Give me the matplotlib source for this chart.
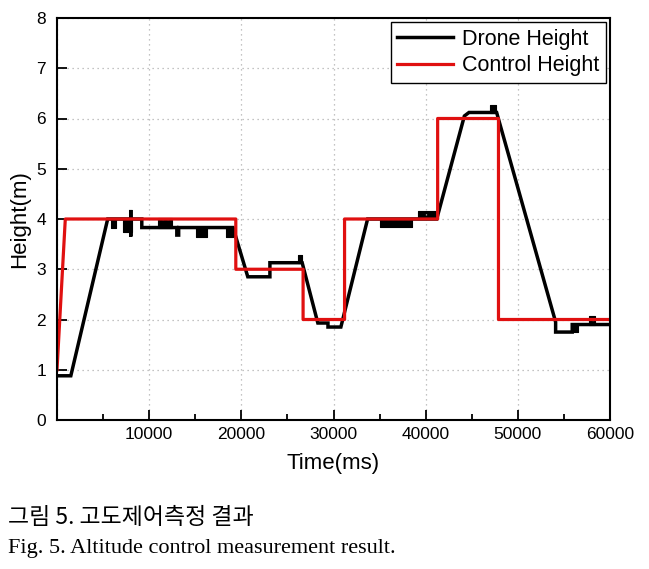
import matplotlib
matplotlib.use("Agg")
import matplotlib.pyplot as plt
from matplotlib.ticker import MultipleLocator

# ---- data ----
drone_t = [0, 1500, 5500, 8000, 8000, 8000, 8000, 9200, 9200, 13000, 13000, 13200, 13200,
           19100, 20700, 23100, 23100, 26600, 28300, 29400, 29400, 30800, 33700,
           41200, 44200, 44700, 47700, 54100, 54100, 55900, 55900, 60000]
drone_h = [0.88, 0.88, 4.0, 4.0, 4.18, 3.65, 4.0, 4.0, 3.83, 3.83, 3.68, 3.68, 3.83,
           3.83, 2.85, 2.85, 3.13, 3.13, 1.93, 1.93, 1.85, 1.85, 4.0,
           4.0, 6.05, 6.12, 6.12, 1.95, 1.75, 1.75, 1.9, 1.9]

# rapid-oscillation blocks of the drone trace: start, end, low, high
noise_start = [5900, 7200, 11000, 15100, 18300, 26200, 35000, 39200, 47000, 55900, 57700]
noise_end   = [6400, 8100, 12500, 16300, 19100, 26600, 38500, 41200, 47600, 56500, 58400]
noise_low   = [3.82, 3.75, 3.83, 3.65, 3.65, 3.13, 3.85, 4.0, 6.1, 1.75, 1.9]
noise_high  = [4.0, 4.0, 4.02, 3.83, 3.83, 3.28, 4.0, 4.15, 6.27, 1.9, 2.07]

control_t = [0, 900, 19400, 19400, 26700, 26700, 31200, 31200, 41300, 41300, 47900, 47900, 60000]
control_h = [1.0, 4.0, 4.0, 3.0, 3.0, 2.0, 2.0, 4.0, 4.0, 6.0, 6.0, 2.0, 2.0]

x_ticks = [0, 10000, 20000, 30000, 40000, 50000, 60000]
x_tick_labels = ['', '10000', '20000', '30000', '40000', '50000', '60000']
y_ticks = [0, 1, 2, 3, 4, 5, 6, 7, 8]

plt.rcParams['font.family'] = ['Liberation Sans', 'DejaVu Sans']

fig = plt.figure(figsize=(6.49, 5.69), dpi=100)
ax = fig.add_axes([57/649, 1-420/569, (610-57)/649, (420-18)/569])

ax.plot(drone_t, drone_h, color='black', lw=2.5, label='Drone Height', solid_joinstyle='miter')
for s, e, lo, hi in zip(noise_start, noise_end, noise_low, noise_high):
    ax.fill_between([s, e], [lo, lo], [hi, hi], color='black', lw=0.8, edgecolor='black')
ax.plot(control_t, control_h, color='#e01010', lw=2.3, label='Control Height')

ax.set_xlim(0, 60000)
ax.set_ylim(0, 8)
ax.set_xticks(x_ticks)
ax.set_xticklabels(x_tick_labels)
ax.set_yticks(y_ticks)
ax.xaxis.set_minor_locator(MultipleLocator(5000))
ax.tick_params(axis='both', which='major', direction='in', length=7, width=1.3, labelsize=12.5)
ax.tick_params(axis='y', which='major', pad=8)
ax.tick_params(axis='x', which='major', pad=5)
ax.tick_params(axis='x', which='minor', direction='in', length=4, width=1.3)
ax.grid(True, which='major', color='#b0b0b0', linestyle=(0, (1, 3)), lw=0.9)
for sp in ax.spines.values():
    sp.set_linewidth(1.5)

ax.set_xlabel('Time(ms)', fontsize=16, labelpad=8)
ax.set_ylabel('Height(m)', fontsize=16, labelpad=4)

leg = ax.legend(loc='upper right', fontsize=15.5, frameon=True, fancybox=False,
                edgecolor='black', framealpha=1, borderpad=0.3, handlelength=2.6,
                handletextpad=0.4, labelspacing=0.25, borderaxespad=0.2)
leg.get_frame().set_linewidth(1.0)

fig.text(8/649, 1-517/569, '그림 5. 고도제어측정 결과', fontsize=16.5,
         family=['Noto Sans CJK KR', 'DejaVu Sans'], va='center', ha='left')
fig.text(8/649, 1-549/569, 'Fig. 5. Altitude control measurement result.', fontsize=16,
         family=['Liberation Serif', 'DejaVu Serif'], va='center', ha='left')

fig.savefig('out.png', dpi=100)
